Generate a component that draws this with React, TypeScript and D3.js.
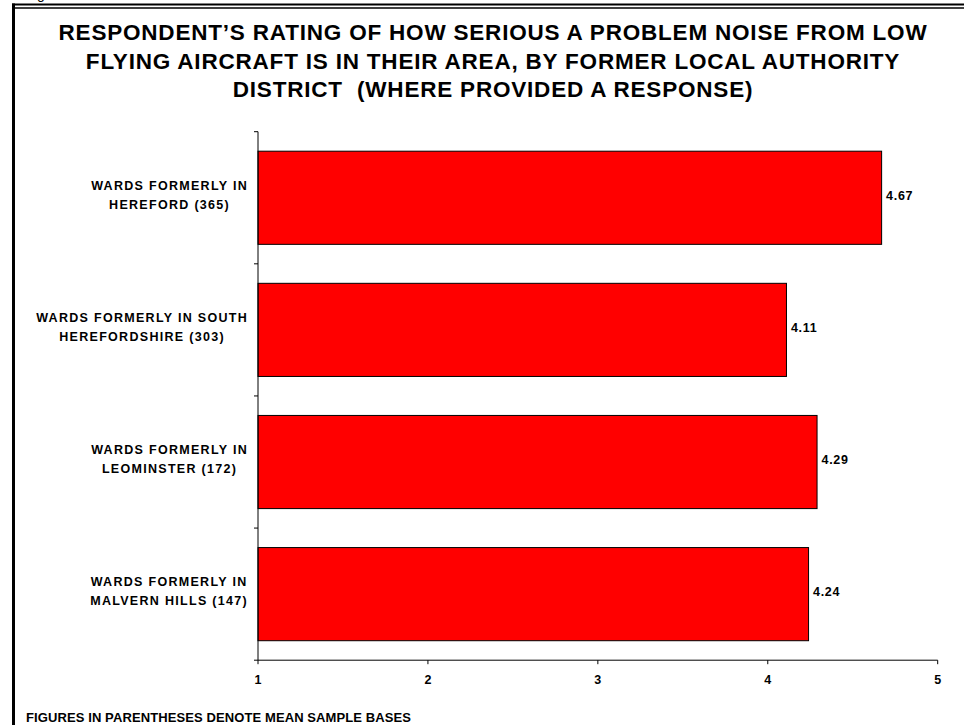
import React, { useEffect, useRef } from "react";
import * as d3 from "d3";

const titleLines = [
  "RESPONDENT\u2019S RATING OF HOW SERIOUS A PROBLEM NOISE FROM LOW",
  "FLYING AIRCRAFT IS IN THEIR AREA, BY FORMER LOCAL AUTHORITY",
  "DISTRICT  (WHERE PROVIDED A RESPONSE)",
];

const categoryLines: string[][] = [
  ["WARDS FORMERLY IN", "HEREFORD (365)"],
  ["WARDS FORMERLY IN SOUTH", "HEREFORDSHIRE (303)"],
  ["WARDS FORMERLY IN", "LEOMINSTER (172)"],
  ["WARDS FORMERLY IN", "MALVERN HILLS (147)"],
];

const values = [4.67, 4.11, 4.29, 4.24];
const xTicks = [1, 2, 3, 4, 5];
const footnote = "FIGURES IN PARENTHESES DENOTE MEAN SAMPLE BASES";

const W = 964;
const H = 725;
const FONT = "'Liberation Sans', Arial, Helvetica, sans-serif";

export default function App() {
  const ref = useRef<SVGSVGElement | null>(null);

  useEffect(() => {
    document.body.style.margin = "0";
    document.body.style.overflow = "hidden";
    const svg = d3.select(ref.current);
    svg.selectAll("*").remove();

    const left = 258, right = 937.7, top = 131.7, bottom = 660.2;

    const x = d3.scaleLinear().domain([1, 5]).range([left, right]);
    const y = d3
      .scaleBand<number>()
      .domain(values.map((_, i) => i))
      .range([top, bottom])
      .paddingInner(0.295)
      .paddingOuter(0.1475);

    // frame
    svg.append("line").attr("x1", 12).attr("x2", W).attr("y1", 4.5).attr("y2", 4.5)
      .attr("stroke", "#000").attr("stroke-width", 2);
    svg.append("line").attr("x1", 15).attr("x2", W).attr("y1", 8).attr("y2", 8)
      .attr("stroke", "#000").attr("stroke-width", 1.5);
    svg.append("line").attr("x1", 13.5).attr("x2", 13.5).attr("y1", 3.5).attr("y2", H)
      .attr("stroke", "#000").attr("stroke-width", 3);

    // clipped fragment of text above the frame
    svg.append("text").attr("x", 37).attr("y", -1).attr("font-family", FONT)
      .attr("font-size", 14).text("g");

    // title
    const title = svg.append("g");
    titleLines.forEach((t, i) => {
      title.append("text")
        .attr("x", 493)
        .attr("y", 40 + i * 28.5)
        .attr("text-anchor", "middle")
        .attr("font-family", FONT)
        .attr("font-weight", "bold")
        .attr("font-size", 22.5)
        .attr("letter-spacing", 0.8)
        .style("white-space", "pre")
        .text(t);
    });

    // bars
    svg.append("g").selectAll("rect").data(values).join("rect")
      .attr("x", x(1))
      .attr("y", (_, i) => y(i)!)
      .attr("width", (d) => x(d) - x(1))
      .attr("height", y.bandwidth())
      .attr("fill", "#FF0000")
      .attr("stroke", "#000")
      .attr("stroke-width", 1);

    // value labels
    svg.append("g").selectAll("text").data(values).join("text")
      .attr("x", (d) => x(d) + 4.5)
      .attr("y", (_, i) => y(i)! + y.bandwidth() / 2 - 2.5)
      .attr("dy", "0.36em")
      .attr("font-family", FONT)
      .attr("font-weight", "bold")
      .attr("font-size", 12.5)
      .attr("letter-spacing", 0.7)
      .text((d) => d.toFixed(2));

    // y axis
    const step = y.step();
    svg.append("line").attr("x1", left).attr("x2", left).attr("y1", top).attr("y2", bottom)
      .attr("stroke", "#000").attr("stroke-width", 1);
    d3.range(values.length + 1).forEach((i) => {
      const yy = top + i * step;
      svg.append("line").attr("x1", left - 4).attr("x2", left).attr("y1", yy).attr("y2", yy)
        .attr("stroke", "#000").attr("stroke-width", 1);
    });

    // x axis
    svg.append("line").attr("x1", left).attr("x2", right).attr("y1", bottom).attr("y2", bottom)
      .attr("stroke", "#000").attr("stroke-width", 1);
    xTicks.forEach((t) => {
      svg.append("line").attr("x1", x(t)).attr("x2", x(t)).attr("y1", bottom).attr("y2", bottom + 4)
        .attr("stroke", "#000").attr("stroke-width", 1);
      svg.append("text")
        .attr("x", x(t))
        .attr("y", bottom + 23.5)
        .attr("text-anchor", "middle")
        .attr("font-family", FONT)
        .attr("font-weight", "bold")
        .attr("font-size", 12.5)
        .text(String(t));
    });

    // category labels
    const labelRight = 248;
    categoryLines.forEach((lines, i) => {
      const g = svg.append("g");
      const texts = lines.map((ln) =>
        g.append("text")
          .attr("font-family", FONT)
          .attr("font-weight", "bold")
          .attr("font-size", 12.5)
          .attr("letter-spacing", 1.3)
          .attr("text-anchor", "middle")
          .text(ln)
      );
      const widths = texts.map((t) => (t.node() as SVGTextElement).getComputedTextLength());
      const maxW = Math.max(...widths);
      const cx = labelRight - maxW / 2;
      const cy = y(i)! + y.bandwidth() / 2 - 3;
      const lh = 19.3;
      texts.forEach((t, j) => {
        t.attr("x", cx).attr("y", cy + (j - (lines.length - 1) / 2) * lh).attr("dy", "0.36em");
      });
    });

    // footnote
    svg.append("text")
      .attr("x", 26)
      .attr("y", 722)
      .attr("font-family", FONT)
      .attr("font-weight", "bold")
      .attr("font-size", 13)
      .attr("letter-spacing", 0.1)
      .text(footnote);
  }, []);

  return (
    <svg
      ref={ref}
      width={W}
      height={H}
      style={{ position: "absolute", left: 0, top: 0, background: "#fff" }}
    />
  );
}
